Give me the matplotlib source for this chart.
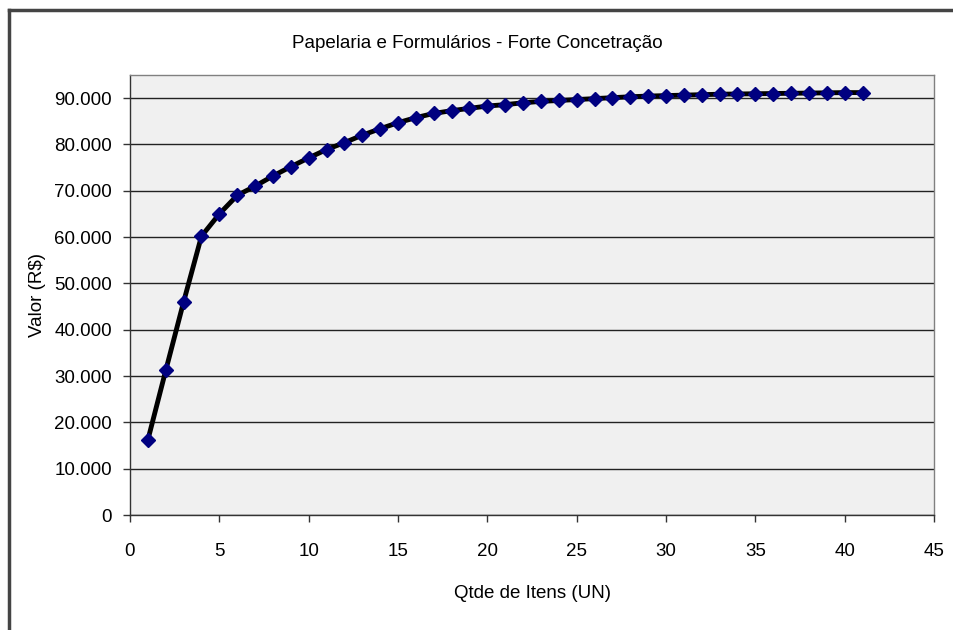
import matplotlib.pyplot as plt
from matplotlib.lines import Line2D
from matplotlib.ticker import FuncFormatter

plt.rcParams['font.family'] = ['Liberation Sans Narrow', 'Liberation Sans', 'DejaVu Sans']

itens = list(range(1, 42))
valor = [16200, 31200, 46000, 60200, 65000, 69000, 71000, 73200, 75200, 77100,
         78900, 80400, 82000, 83400, 84700, 85800, 86700, 87300, 87800, 88300,
         88600, 89000, 89300, 89500, 89700, 89900, 90100, 90300, 90450, 90550,
         90650, 90750, 90850, 90900, 90950, 91000, 91050, 91100, 91150, 91200,
         91200]

fig = plt.figure(figsize=(9.54, 6.3), dpi=100)
ax = fig.add_axes([130 / 954, 1 - 515 / 630, 804 / 954, 440 / 630])

ax.set_facecolor('#f0f0f0')
for s in ax.spines.values():
    s.set_color('#808080')
    s.set_linewidth(1)
ax.spines['left'].set_color('#333333')
ax.spines['bottom'].set_color('#333333')

ax.plot(itens, valor, color='black', linewidth=3.5, zorder=3)
ax.plot(itens, valor, linestyle='none', marker='D', markersize=7,
        markerfacecolor='#000080', markeredgecolor='#000080', zorder=4)

ax.set_xlim(0, 45)
ax.set_ylim(0, 95000)
ax.set_xticks(range(0, 46, 5))
ax.set_yticks(range(0, 90001, 10000))
ax.yaxis.set_major_formatter(FuncFormatter(lambda v, p: f'{int(v):,}'.replace(',', '.')))
ax.grid(axis='y', color='#222222', linewidth=1)
ax.set_axisbelow(True)
ax.tick_params(direction='out', length=5, width=1, colors='#333333',
               labelcolor='black', labelsize=13.5)
ax.tick_params(axis='x', pad=15)
ax.tick_params(axis='y', pad=8)

ax.set_xlabel('Qtde de Itens (UN)', fontsize=13.5, labelpad=18)
ax.set_ylabel('Valor (R$)', fontsize=13.5, labelpad=6)
fig.text(0.5, 1 - 43 / 630, 'Papelaria e Formulários - Forte Concetração',
         ha='center', va='center', fontsize=13.5)

# chart-area frame (top and left edges)
fig.add_artist(Line2D([9 / 954, 1], [1 - 10 / 630] * 2, color='#444444', linewidth=2.5))
fig.add_artist(Line2D([9 / 954] * 2, [0, 1 - 10 / 630], color='#444444', linewidth=2.5))

fig.savefig('out.png', dpi=100)
